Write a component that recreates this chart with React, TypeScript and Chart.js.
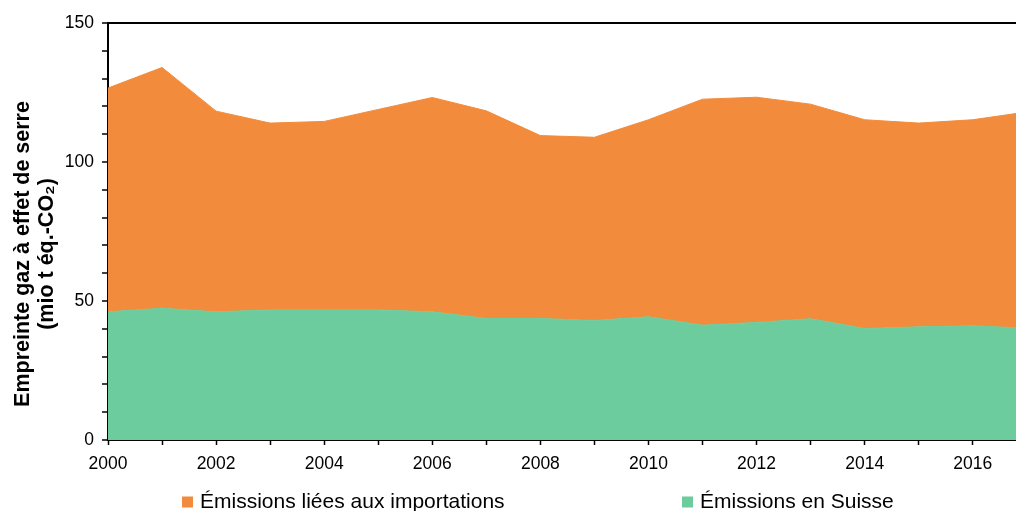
import { useEffect, useRef } from "react";
import { Chart, registerables } from "chart.js";

Chart.register(...registerables);

// ---- Data ----
const years = [2000, 2001, 2002, 2003, 2004, 2005, 2006, 2007, 2008, 2009, 2010, 2011, 2012, 2013, 2014, 2015, 2016, 2017];
const emissionsSuisse = [46.1, 47.4, 46.1, 46.8, 46.8, 46.8, 46.1, 43.7, 43.7, 43.0, 44.3, 41.3, 42.3, 43.6, 40.1, 40.7, 41.1, 40.2];
const emissionsImportations = [80.5, 86.6, 72.2, 67.2, 67.8, 72.1, 77.1, 74.7, 65.8, 65.9, 70.9, 81.3, 81.0, 77.2, 75.1, 73.3, 74.1, 77.8];
const seriesLabels = ["Émissions liées aux importations", "Émissions en Suisse"];
const yTitleLines = ["Empreinte gaz à effet de serre", "(mio t éq.-CO₂)"];
const yTickLabels = [0, 50, 100, 150];
const xTickLabels = [2000, 2002, 2004, 2006, 2008, 2010, 2012, 2014, 2016];

const FONT = '"Liberation Sans", Arial, Helvetica, sans-serif';
const ORANGE = "#F28C3C";
const GREEN = "#6DCC9D";

const textPlugin = {
  id: "customTexts",
  afterDraw(chart: any) {
    const ctx = chart.ctx as CanvasRenderingContext2D;
    // Y axis title (rotated)
    ctx.save();
    ctx.fillStyle = "#000";
    ctx.font = `bold 21.5px ${FONT}`;
    ctx.textAlign = "center";
    ctx.textBaseline = "alphabetic";
    ctx.translate(0, 254);
    ctx.rotate(-Math.PI / 2);
    ctx.fillText(yTitleLines[0], 0, 28.5);
    ctx.fillText(yTitleLines[1], 0, 52.5);
    ctx.restore();

    // Legend
    const items = [
      { label: seriesLabels[0], color: ORANGE, x: 182 },
      { label: seriesLabels[1], color: GREEN, x: 682 },
    ];
    ctx.save();
    ctx.font = `21px ${FONT}`;
    ctx.textAlign = "left";
    ctx.textBaseline = "alphabetic";
    items.forEach((it) => {
      ctx.fillStyle = it.color;
      ctx.fillRect(it.x, 496.5, 11, 11);
      ctx.fillStyle = "#000";
      ctx.fillText(it.label, it.x + 18, 507.5);
    });
    ctx.restore();
  },
};

export default function App() {
  const canvasRef = useRef<HTMLCanvasElement | null>(null);

  useEffect(() => {
    document.body.style.margin = "0";
    const canvas = canvasRef.current;
    if (!canvas) return;
    const chart = new Chart(canvas, {
      type: "line",
      data: {
        datasets: [
          {
            label: seriesLabels[1],
            data: years.map((y, i) => ({ x: y, y: emissionsSuisse[i] })),
            backgroundColor: GREEN,
            borderColor: GREEN,
            borderWidth: 1,
            pointRadius: 0,
            fill: "origin",
            tension: 0,
          },
          {
            label: seriesLabels[0],
            data: years.map((y, i) => ({ x: y, y: emissionsImportations[i] })),
            backgroundColor: ORANGE,
            borderColor: ORANGE,
            borderWidth: 1,
            pointRadius: 0,
            fill: "-1",
            tension: 0,
          },
        ],
      },
      options: {
        animation: false,
        responsive: false,
        events: [],
        layout: { padding: { top: 23, right: 0, bottom: 0, left: 0 } },
        plugins: {
          legend: { display: false },
          tooltip: { enabled: false },
          title: { display: false },
        },
        scales: {
          x: {
            type: "linear",
            min: 2000,
            max: 2016.8,
            ticks: {
              stepSize: 1,
              autoSkip: false,
              includeBounds: false,
              maxRotation: 0,
              minRotation: 0,
              padding: 9,
              color: "#000",
              font: { family: FONT, size: 17.5 },
              callback: (v: any) => (xTickLabels.includes(Number(v)) ? String(v) : ""),
            },
            grid: {
              drawOnChartArea: false,
              tickColor: "#000",
              tickLength: 5,
              tickWidth: 1.5,
            },
            border: { display: true, color: "#000", width: 2 },
            afterFit: (s: any) => {
              s.height = 71;
            },
          },
          y: {
            stacked: true,
            min: 0,
            max: 150,
            ticks: {
              stepSize: 10,
              autoSkip: false,
              padding: 8,
              color: "#000",
              font: { family: FONT, size: 17.5 },
              callback: (v: any) => (yTickLabels.includes(Number(v)) ? String(v) : ""),
            },
            grid: {
              drawOnChartArea: true,
              color: (c: any) => (c.tick && c.tick.value === 150 ? "#000" : "rgba(0,0,0,0)"),
              lineWidth: (c: any) => (c.tick && c.tick.value === 150 ? 2 : 0),
              tickColor: "#000",
              tickLength: 6,
              tickWidth: 1.5,
            },
            border: { display: true, color: "#000", width: 2 },
            afterFit: (s: any) => {
              s.width = 108;
            },
          },
        },
      } as any,
      plugins: [textPlugin],
    });
    return () => chart.destroy();
  }, []);

  return (
    <div style={{ width: 1016, height: 511, position: "relative" }}>
      <canvas ref={canvasRef} width={1016} height={511} style={{ display: "block" }} />
    </div>
  );
}
